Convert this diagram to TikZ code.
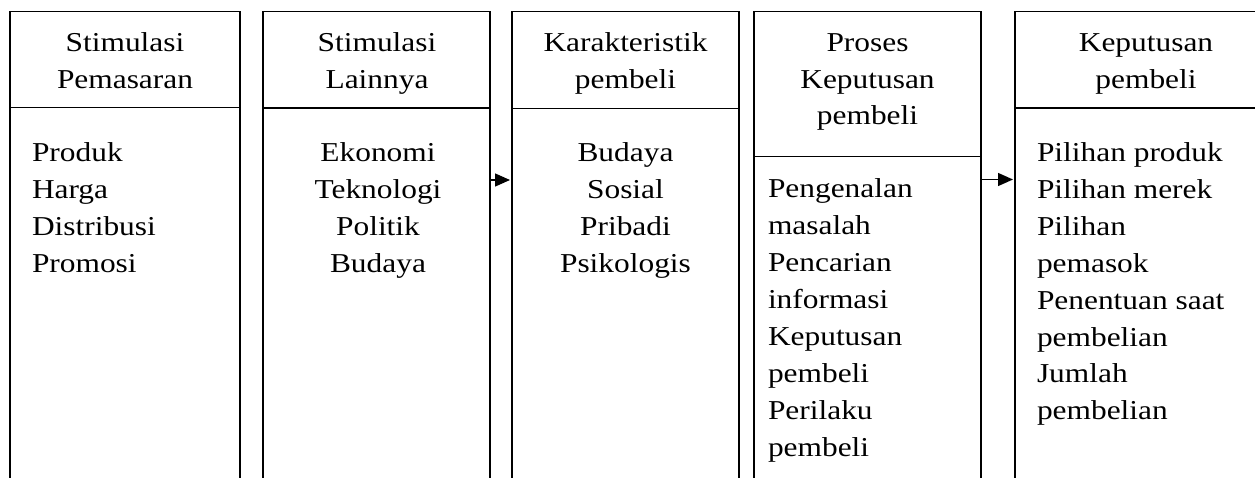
\documentclass[tikz,border=0pt]{standalone}
\usepackage{fontspec}
\setmainfont{Liberation Serif}
\usetikzlibrary{arrows.meta}
\newcommand{\wide}[1]{\scalebox{1.15}[1]{#1}}
\begin{document}
\begin{tikzpicture}[x=1pt,y=-1pt,
  colbox/.style={draw, line width=1.4pt, anchor=north west, inner sep=0pt, outer sep=0pt, minimum height=500pt},
  divline/.style={line width=1.4pt},
  txt/.style={font=\fontsize{27.3}{36.8}\selectfont, inner sep=0pt, outer sep=0pt},
  arr/.style={line width=1.4pt, -{Triangle[length=15pt,width=13pt]}, shorten >=2pt}]
\clip (0,0) rectangle (1255,478);
\useasboundingbox (0,0) rectangle (1255,478);
% boxes
\node[colbox, minimum width=230pt] (b1) at (10,11.5) {};
\node[colbox, minimum width=227pt] (b2) at (263,11.5) {};
\node[colbox, minimum width=227pt] (b3) at (512,11.5) {};
\node[colbox, minimum width=227pt] (b4) at (754,11.5) {};
\node[colbox, minimum width=262pt] (b5) at (1015,11.5) {};
% dividers
\draw[divline] (b1.west |- 0,107.5) -- (b1.east |- 0,107.5);
\draw[divline] (b2.west |- 0,108) -- (b2.east |- 0,108);
\draw[divline] (b3.west |- 0,108.5) -- (b3.east |- 0,108.5);
\draw[divline] (b4.west |- 0,156.5) -- (b4.east |- 0,156.5);
\draw[divline] (b5.west |- 0,108) -- (b5.east |- 0,108);
% headers
\foreach \t [count=\i] in {Stimulasi,Pemasaran}
  \node[txt, anchor=base] (h1l\i) at (125, {52+36.5*(\i-1)}) {\wide{\t}};
\foreach \t [count=\i] in {Stimulasi,Lainnya}
  \node[txt, anchor=base] (h2l\i) at (377, {52+36.5*(\i-1)}) {\wide{\t}};
\foreach \t [count=\i] in {Karakteristik,pembeli}
  \node[txt, anchor=base] (h3l\i) at (625.5, {52+36.5*(\i-1)}) {\wide{\t}};
\foreach \t [count=\i] in {Proses,Keputusan,pembeli}
  \node[txt, anchor=base] (h4l\i) at (867.5, {52+36.5*(\i-1)}) {\wide{\t}};
\foreach \t [count=\i] in {Keputusan,pembeli}
  \node[txt, anchor=base] (h5l\i) at (1146, {52+36.5*(\i-1)}) {\wide{\t}};
% bodies
\foreach \t [count=\i] in {Produk,Harga,Distribusi,Promosi}
  \node[txt, anchor=base west] (t1l\i) at (32, {161.5+36.9*(\i-1)}) {\wide{\t}};
\foreach \t [count=\i] in {Ekonomi,Teknologi,Politik,Budaya}
  \node[txt, anchor=base] (t2l\i) at (378, {161.5+36.9*(\i-1)}) {\wide{\t}};
\foreach \t [count=\i] in {Budaya,Sosial,Pribadi,Psikologis}
  \node[txt, anchor=base] (t3l\i) at (625.5, {161.5+36.9*(\i-1)}) {\wide{\t}};
\foreach \t [count=\i] in {Pengenalan,masalah,Pencarian,informasi,Keputusan,pembeli,Perilaku,pembeli}
  \node[txt, anchor=base west] (t4l\i) at (768, {198+36.9*(\i-1)}) {\wide{\t}};
\foreach \t [count=\i] in {Pilihan produk,Pilihan merek,Pilihan,pemasok,Penentuan saat,pembelian,Jumlah,pembelian}
  \node[txt, anchor=base west] (t5l\i) at (1037, {162+36.8*(\i-1)}) {\wide{\t}};
% arrows
\draw[arr] (b2.east |- 0,180) -- (b3.west |- 0,180);
\draw[arr] (b4.east |- 0,179.5) -- (b5.west |- 0,179.5);
\end{tikzpicture}
\end{document}
